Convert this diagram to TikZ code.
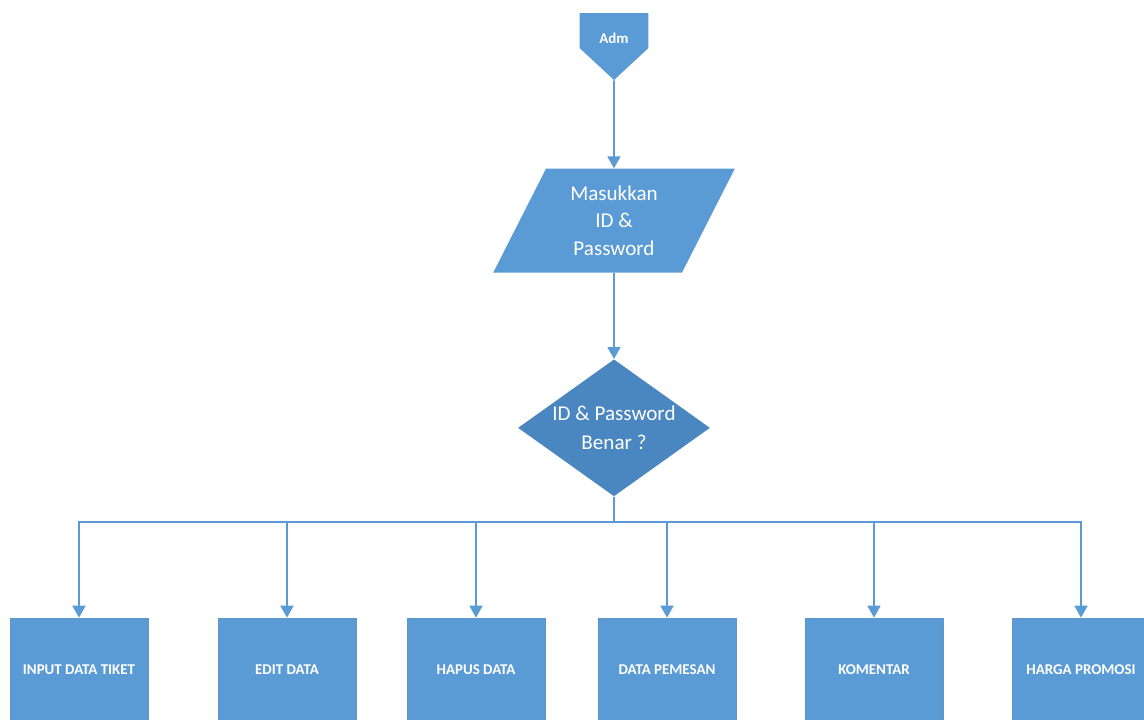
\documentclass[tikz,border=0pt]{standalone}
\usepackage{fontspec}
\setmainfont{Carlito}
\usetikzlibrary{arrows.meta,positioning,shapes.geometric}
\definecolor{flowblue}{HTML}{5B9BD5}
\definecolor{flowdark}{HTML}{4A86BF}

\begin{document}
\begin{tikzpicture}[x=0.02cm, y=-0.02cm, node distance=1.76cm,
    line/.style={draw=flowblue, line width=1pt},
    arrow/.style={line, -{Triangle[width=7.4pt,length=6.8pt]}},
    menubox/.style={
        rectangle,
        fill=flowblue,
        draw=flowblue!85!gray,
        minimum width=2.76cm,
        minimum height=2.08cm,
        inner sep=0pt,
        text=white,
        font=\fontsize{8.5}{10}\selectfont\bfseries
    }
]
        \useasboundingbox (0,0) rectangle (1144,720);

        % off-page connector
        \node (1) [
            rectangle,
            minimum width=1.38cm,
            minimum height=1.34cm,
            inner sep=0pt,
            path picture={
                \fill[flowblue]
                    (path picture bounding box.north west)
                    -- (path picture bounding box.north east)
                    -- ([yshift=0.64cm]path picture bounding box.south east)
                    -- (path picture bounding box.south)
                    -- ([yshift=0.64cm]path picture bounding box.south west)
                    -- cycle;
            },
            label={[yshift=0.17cm, text=white, font=\fontsize{8.5}{10}\selectfont\bfseries]center:Adm}
        ] at (614,46.5) {};

        \node (2) [
            trapezium,
            trapezium left angle=64,
            trapezium right angle=116,
            trapezium stretches=true,
            fill=flowblue,
            minimum width=4.84cm,
            minimum height=2.08cm,
            inner sep=0pt,
            text=white,
            align=center,
            font=\fontsize{12}{15.6}\selectfont,
            below=of 1
        ]
        {
            Masukkan\\
            ID \&\\
            Password
        };

        \node (3) [
            diamond,
            fill=flowdark,
            minimum width=3.84cm,
            minimum height=2.74cm,
            inner sep=0pt,
            below=1.72cm of 2,
            label={[text=white, align=center, font=\fontsize{12}{16.4}\selectfont]center:ID \& Password\\Benar ?}
        ] {};

        \node (4) [menubox] at (79,670)   {INPUT DATA TIKET};
        \node (5) [menubox] at (287,670)  {EDIT DATA};
        \node (6) [menubox] at (476,670)  {HAPUS DATA};
        \node (7) [menubox] at (667,670)  {DATA PEMESAN};
        \node (8) [menubox] at (874,670)  {KOMENTAR};
        \node (9) [menubox] at (1081,670) {HARGA PROMOSI};

        \coordinate (bus) at (614,522);

        \draw[arrow] (1) -- (2);
        \draw[arrow] (2) -- (3);
        \foreach \k in {4,...,9}
            \draw[arrow] (3.south) -- (bus) -| (\k.north);
\end{tikzpicture}
\end{document}
